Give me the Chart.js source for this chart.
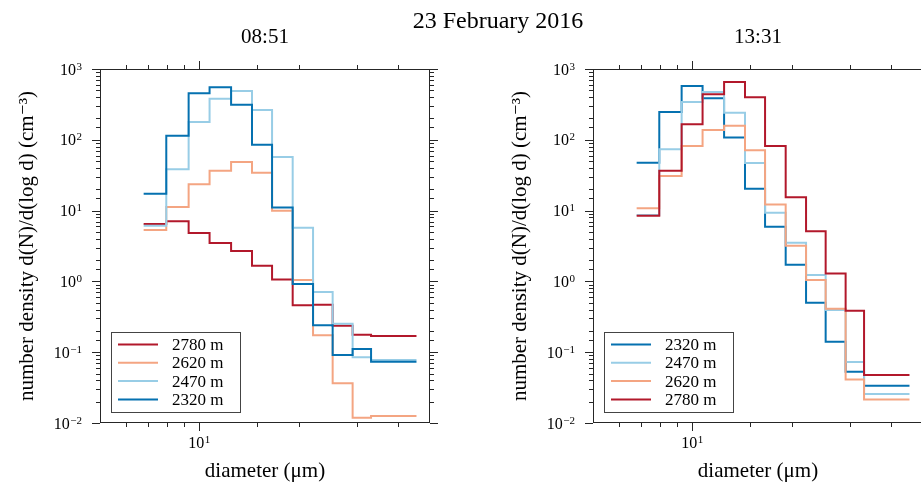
<!DOCTYPE html>
<html>
<head>
<meta charset="utf-8">
<script src="https://cdn.jsdelivr.net/npm/chart.js@4.4.0/dist/chart.umd.min.js"></script>
<style>
  html, body { margin: 0; padding: 0; background: #fff; overflow: hidden; }
  #wrap { position: relative; width: 921px; height: 489px; overflow: hidden; font-family: 'Liberation Serif', 'DejaVu Serif', serif; color: #000; }
  canvas { position: absolute; top: 0; }
  #left { left: 0; }
  #right { left: 493px; }
  .ttl { position: absolute; text-align: center; white-space: nowrap; }
  #suptitle { top: 5px; left: 298px; width: 400px; font-size: 24px; line-height: 30px; }
  #t1 { top: 23px; left: 165px; width: 200px; font-size: 21px; line-height: 26px; }
  #t2 { top: 23px; left: 658px; width: 200px; font-size: 21px; line-height: 26px; }
</style>
</head>
<body>
<div id="wrap">
  <canvas id="left" width="460" height="489"></canvas>
  <canvas id="right" width="440" height="489"></canvas>
  <div class="ttl" id="suptitle">23 February 2016</div>
  <div class="ttl" id="t1">08:51</div>
  <div class="ttl" id="t2">13:31</div>
</div>
<script>
const FONT = "'Liberation Serif', 'DejaVu Serif', serif";

// bin edges of the size distribution (diameter, um)
const binEdges = [6.78, 7.94, 9.28, 10.74, 12.48, 14.44, 16.61, 19.18, 22.11, 25.35, 29.14, 33.14, 45.5];

const labels = {
  m2320: '2320 m',
  m2470: '2470 m',
  m2620: '2620 m',
  m2780: '2780 m'
};

const colors = {
  m2320: '#0571b0',
  m2470: '#98cde6',
  m2620: '#f4a582',
  m2780: '#b2182b'
};

// 08:51 profile, d(N)/d(log d) per bin (cm^-3)
const am2780 = [6.47, 7.06, 4.83, 3.49, 2.69, 1.67, 1.06, 0.459, 0.469, 0.237, 0.177, 0.169];
const am2620 = [5.32, 11.2, 23.5, 36.6, 48.6, 34.3, 9.97, 1.05, 0.173, 0.0363, 0.0119, 0.0126];
const am2470 = [6.1, 38.3, 178, 381, 489, 264, 57.2, 5.74, 0.708, 0.253, 0.0847, 0.0776];
const am2320 = [17.3, 114, 454, 551, 313, 85.3, 11.1, 0.92, 0.24, 0.091, 0.111, 0.0735];

// 13:31 profile
const pm2320 = [47.5, 247, 575, 386, 108, 20.4, 5.93, 1.72, 0.5, 0.141, 0.053, 0.0336];
const pm2470 = [8.67, 73.4, 342, 473, 241, 47, 9.33, 3.52, 1.23, 0.394, 0.0728, 0.0257];
const pm2620 = [10.8, 30.8, 81.7, 137, 158, 71, 12.2, 3.2, 1.05, 0.412, 0.041, 0.0214];
const pm2780 = [8.47, 36.6, 166, 439, 655, 398, 81.7, 15.4, 5.1, 1.29, 0.386, 0.0476];

const xMin = 5, xMax = 50;
const yMin = 0.01, yMax = 1000;

const isMajor = v => Math.abs(Math.log10(v) - Math.round(Math.log10(v))) < 1e-6;

// step line: one point per bin edge, last value repeated at the closing edge
const stepPoints = (vals) => binEdges.map((e, i) => ({ x: e, y: vals[Math.min(i, vals.length - 1)] }));

const makeDataset = (key, vals, i, n) => ({
  label: labels[key],
  data: stepPoints(vals),
  borderColor: colors[key],
  backgroundColor: colors[key],
  borderWidth: 2,
  pointRadius: 0,
  fill: false,
  stepped: 'before',
  order: n - 1 - i
});

// "10" with a raised exponent, anchored at (x, baseline)
function drawPow10(ctx, e, x, base, align) {
  const exp = String(e).replace('-', '\u2212');
  ctx.font = '16px ' + FONT;
  const w1 = ctx.measureText('10').width;
  ctx.font = '11px ' + FONT;
  const w2 = ctx.measureText(exp).width;
  const total = w1 + w2 + 0.5;
  const x0 = align === 'right' ? x - total : x - total / 2;
  ctx.textAlign = 'left';
  ctx.textBaseline = 'alphabetic';
  ctx.font = '16px ' + FONT;
  ctx.fillText('10', x0, base);
  ctx.font = '11px ' + FONT;
  ctx.fillText(exp, x0 + w1 + 0.5, base - 5);
}

// box, spines, outward ticks on all four sides and the decade labels
const frameTicks = {
  id: 'frameTicks',
  afterDatasetsDraw(chart) {
    const { ctx, chartArea: a, scales: { x, y } } = chart;
    ctx.save();
    ctx.strokeStyle = '#262626';
    ctx.lineWidth = 1;
    ctx.strokeRect(a.left + 0.5, a.top + 0.5, a.right - a.left - 1, a.bottom - a.top - 1);
    ctx.beginPath();
    x.ticks.forEach(t => {
      if (t.value <= xMin * 1.0001 || t.value >= xMax * 0.9999) return;
      const px = Math.round(x.getPixelForValue(t.value)) + 0.5;
      const len = isMajor(t.value) ? 8 : 4;
      ctx.moveTo(px, a.bottom); ctx.lineTo(px, a.bottom + len);
      ctx.moveTo(px, a.top); ctx.lineTo(px, a.top - len);
    });
    y.ticks.forEach(t => {
      const py = Math.round(y.getPixelForValue(t.value)) + 0.5;
      const len = isMajor(t.value) ? 8 : 4;
      ctx.moveTo(a.left, py); ctx.lineTo(a.left - len, py);
      ctx.moveTo(a.right, py); ctx.lineTo(a.right + len, py);
    });
    ctx.stroke();

    ctx.fillStyle = '#000';
    x.ticks.forEach(t => {
      if (!isMajor(t.value)) return;
      drawPow10(ctx, Math.round(Math.log10(t.value)), x.getPixelForValue(t.value), a.bottom + 25, 'center');
    });
    y.ticks.forEach(t => {
      if (!isMajor(t.value)) return;
      drawPow10(ctx, Math.round(Math.log10(t.value)), a.left - 18, y.getPixelForValue(t.value) + 5.5, 'right');
    });
    ctx.restore();
  }
};

// legend box in the lower left corner of the axes
const boxLegend = {
  id: 'boxLegend',
  afterDraw(chart) {
    const { ctx, chartArea: a } = chart;
    const sets = chart.data.datasets;
    const rowH = 18.3, w = 129, h = 80;
    const bx = Math.round(a.left + 11), by = Math.round(a.bottom - 11 - h);
    ctx.save();
    ctx.fillStyle = '#fff';
    ctx.fillRect(bx, by, w, h);
    ctx.strokeStyle = '#444';
    ctx.lineWidth = 1;
    ctx.strokeRect(bx + 0.5, by + 0.5, w, h);
    ctx.font = '17px ' + FONT;
    ctx.textBaseline = 'middle';
    sets.forEach((ds, i) => {
      const cy = by + 12.5 + i * rowH;
      ctx.strokeStyle = ds.borderColor;
      ctx.lineWidth = 2;
      ctx.beginPath();
      ctx.moveTo(bx + 7, cy);
      ctx.lineTo(bx + 47, cy);
      ctx.stroke();
      ctx.fillStyle = '#000';
      ctx.fillText(ds.label, bx + 61, cy + 1);
    });
    ctx.restore();
  }
};

const makeOptions = (padRight) => ({
  responsive: false,
  animation: false,
  events: [],
  layout: { padding: { left: 0, right: padRight, top: 69, bottom: 0 } },
  plugins: {
    legend: { display: false },
    tooltip: { enabled: false },
    title: { display: false }
  },
  scales: {
    x: {
      type: 'logarithmic',
      min: xMin,
      max: xMax,
      grid: { display: false, drawTicks: false },
      border: { display: false },
      ticks: { display: false, autoSkip: false },
      title: {
        display: true,
        text: 'diameter (\u03bcm)',
        color: '#000',
        font: { family: FONT, size: 21 },
        padding: { top: 4, bottom: 5 }
      },
      afterFit: s => { s.height = 66; }
    },
    y: {
      type: 'logarithmic',
      min: yMin,
      max: yMax,
      grid: { display: false, drawTicks: false },
      border: { display: false },
      ticks: { display: false, autoSkip: false },
      title: {
        display: true,
        text: 'number density d(N)/d(log d) (cm\u207b\u00b3)',
        color: '#000',
        font: { family: FONT, size: 21 },
        padding: { top: 15, bottom: 0 }
      },
      afterFit: s => { s.width = 100; }
    }
  }
});

const amSeries = [['m2780', am2780], ['m2620', am2620], ['m2470', am2470], ['m2320', am2320]];
const pmSeries = [['m2320', pm2320], ['m2470', pm2470], ['m2620', pm2620], ['m2780', pm2780]];

new Chart(document.getElementById('left'), {
  type: 'line',
  data: { datasets: amSeries.map(([k, v], i) => makeDataset(k, v, i, amSeries.length)) },
  options: makeOptions(30),
  plugins: [frameTicks, boxLegend]
});

new Chart(document.getElementById('right'), {
  type: 'line',
  data: { datasets: pmSeries.map(([k, v], i) => makeDataset(k, v, i, pmSeries.length)) },
  options: makeOptions(10),
  plugins: [frameTicks, boxLegend]
});
</script>
</body>
</html>
